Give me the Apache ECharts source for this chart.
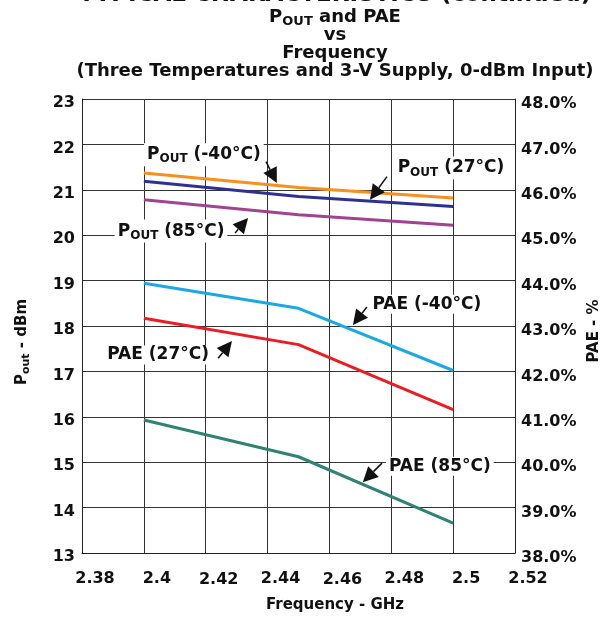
<!DOCTYPE html>
<html><head><meta charset="utf-8">
<script src="https://cdn.jsdelivr.net/npm/echarts@6/dist/echarts.min.js"></script>
<style>html,body{margin:0;padding:0;background:#fff}#c{width:608px;height:624px}</style>
</head><body><div id="c"></div>
<script>
// ---- data ----
const freqs   = [2.4, 2.45, 2.5];
const poutM40 = [21.37, 21.05, 20.82];
const pout27  = [21.19, 20.85, 20.63];
const pout85  = [20.78, 20.45, 20.22];
const paeM40  = [43.94, 43.39, 42.02];
const pae27   = [43.17, 42.59, 41.16];
const pae85   = [40.93, 40.12, 38.66];
const xTicks  = [2.38, 2.4, 2.42, 2.44, 2.46, 2.48, 2.5, 2.52];
const leftTicks  = [13, 14, 15, 16, 17, 18, 19, 20, 21, 22, 23];
const rightTicks = [38, 39, 40, 41, 42, 43, 44, 45, 46, 47, 48];

const FONT = '"DejaVu Sans", "Liberation Sans", sans-serif';
const chart = echarts.init(document.getElementById('c'), null, {renderer: 'canvas'});

function pairs(ys) { return freqs.map((f, i) => [f, ys[i]]); }
function line(name, ys, color, axis) {
  return { name, type: 'line', yAxisIndex: axis, data: pairs(ys), symbol: 'none',
    lineStyle: { color, width: 3 }, itemStyle: { color }, z: 5, animation: false };
}
const lowered = [2.42, 2.46];

chart.setOption({
  animation: false,
  backgroundColor: '#fff',
  grid: { left: 82, right: 93, top: 99, bottom: 71, containLabel: false },
  xAxis: {
    type: 'value', min: xTicks[0], max: xTicks[xTicks.length - 1], interval: 0.02,
    axisLine: { show: true, lineStyle: { color: '#222', width: 1 } },
    axisTick: { show: false },
    splitLine: { show: true, lineStyle: { color: '#333', width: 1 } },
    axisLabel: { margin: 10, fontFamily: FONT, fontWeight: 'bold', fontSize: 16, color: '#111',
      formatter: v => {
        const r = Math.round(v * 100) / 100;
        return (lowered.includes(r) ? '{b|' : '{a|') + r + '}';
      },
      rich: {
        a: { fontFamily: FONT, fontWeight: 'bold', fontSize: 16, color: '#111', lineHeight: 31, padding: [0, 0, 0, 26] },
        b: { fontFamily: FONT, fontWeight: 'bold', fontSize: 16, color: '#111', lineHeight: 34, padding: [0, 0, 0, 26] }
      } }
  },
  yAxis: [{
    type: 'value', min: leftTicks[0], max: leftTicks[leftTicks.length - 1], interval: 1,
    axisLine: { show: true, lineStyle: { color: '#222', width: 1 } },
    axisTick: { show: false },
    splitLine: { show: true, lineStyle: { color: '#333', width: 1 } },
    axisLabel: { margin: 7, fontFamily: FONT, fontWeight: 'bold', fontSize: 16, color: '#111',
      verticalAlign: 'top', lineHeight: 8 }
  }, {
    type: 'value', min: rightTicks[0], max: rightTicks[rightTicks.length - 1], interval: 1,
    position: 'right',
    axisLine: { show: true, lineStyle: { color: '#222', width: 1 } },
    axisTick: { show: false },
    splitLine: { show: false },
    axisLabel: { margin: 6, fontFamily: FONT, fontWeight: 'bold', fontSize: 16, color: '#111',
      verticalAlign: 'top', lineHeight: 10, formatter: v => v.toFixed(1) + '%' }
  }],
  series: [
    line('POUT (-40°C)', poutM40, '#F7901E', 0),
    line('POUT (27°C)', pout27, '#2E3192', 0),
    line('POUT (85°C)', pout85, '#A0448F', 0),
    line('PAE (-40°C)', paeM40, '#1BA9E6', 1),
    line('PAE (27°C)', pae27, '#EC1C24', 1),
    line('PAE (85°C)', pae85, '#2F8373', 1)
  ]
});

// ---- annotations (positions in data units of left axis: GHz, dBm) ----
const notes = [
  { sub: true, pre: 'P', s: 'OUT', post: ' (-40°C)', at: [2.4194, 21.77], tail: [2.4395, 21.62], tip: [2.4430, 21.15] },
  { sub: true, pre: 'P', s: 'OUT', post: ' (27°C)',  at: [2.4993, 21.48], tail: [2.4786, 21.29], tip: [2.4731, 20.78] },
  { sub: true, pre: 'P', s: 'OUT', post: ' (85°C)',  at: [2.4088, 20.09], tail: [2.4295, 20.05], tip: [2.4337, 20.38] },
  { text: 'PAE (-40°C)', at: [2.4915, 18.48], tail: [2.4721, 18.42], tip: [2.4676, 18.02] },
  { text: 'PAE (27°C)',  at: [2.4046, 17.36], tail: [2.4240, 17.29], tip: [2.4285, 17.67] },
  { text: 'PAE (85°C)',  at: [2.4957, 14.91], tail: [2.4770, 14.98], tip: [2.4708, 14.56] }
];

const richBase = {
  a: { fontFamily: FONT, fontWeight: 'bold', fontSize: 17, fill: '#111' },
  s: { fontFamily: FONT, fontWeight: 'bold', fontSize: 12, fill: '#111', padding: [9, 0, 0, 0] }
};
const px = p => chart.convertToPixel({ gridIndex: 0 }, p);

const g = [];
notes.forEach(n => {
  const c = px(n.at), t0 = px(n.tail), t1 = px(n.tip);
  const dx = t1[0] - t0[0], dy = t1[1] - t0[1], L = Math.hypot(dx, dy);
  const ux = dx / L, uy = dy / L, hl = 15, hw = 7.5;
  const bx = t1[0] - ux * hl, by = t1[1] - uy * hl;
  g.push({ type: 'line', z: 20, shape: { x1: t0[0], y1: t0[1], x2: bx, y2: by },
    style: { stroke: '#111', lineWidth: 1.5 } });
  g.push({ type: 'polygon', z: 20, shape: { points: [[t1[0], t1[1]],
    [bx - uy * hw, by + ux * hw], [bx + uy * hw, by - ux * hw]] }, style: { fill: '#111' } });
  const txt = n.sub ? `{a|${n.pre}}{s|${n.s}}{a|${n.post}}` : `{a|${n.text}}`;
  g.push({ type: 'text', z: 21, x: c[0], y: c[1], style: {
    text: txt, rich: richBase, align: 'center', verticalAlign: 'middle',
    backgroundColor: '#fff', padding: [1, 3, 1, 3] } });
});

// titles
const T = { fontFamily: FONT, fontWeight: 'bold', fontSize: 18, fill: '#111' };
const TS = { fontFamily: FONT, fontWeight: 'bold', fontSize: 13, fill: '#111', padding: [9, 0, 0, 0] };
const CX = 335;
g.push({ type: 'text', x: CX, y: 7, style: { text: 'TYPICAL CHARACTERISTICS (continued)',
  fontFamily: FONT, fontWeight: 'bold', fontSize: 23, fill: '#111', align: 'center', verticalAlign: 'bottom' } });
g.push({ type: 'text', x: CX, y: 17, style: { text: '{a|P}{s|OUT}{a| and PAE}', rich: { a: T, s: TS },
  align: 'center', verticalAlign: 'middle' } });
g.push({ type: 'text', x: CX, y: 35, style: { text: 'vs', ...T, align: 'center', verticalAlign: 'middle' } });
g.push({ type: 'text', x: CX, y: 53, style: { text: 'Frequency', ...T, align: 'center', verticalAlign: 'middle' } });
g.push({ type: 'text', x: CX, y: 71, style: { text: '(Three Temperatures and 3-V Supply, 0-dBm Input)', ...T,
  align: 'center', verticalAlign: 'middle' } });

// axis names
const N = { fontFamily: FONT, fontWeight: 'bold', fontSize: 15, fill: '#111' };
const NS = { fontFamily: FONT, fontWeight: 'bold', fontSize: 11, fill: '#111', padding: [8, 0, 0, 0] };
g.push({ type: 'text', x: CX, y: 605, style: { text: 'Frequency - GHz', ...N, align: 'center', verticalAlign: 'middle' } });
g.push({ type: 'text', x: 22, y: 342, rotation: Math.PI / 2, style: { text: '{a|P}{s|out}{a| - dBm}',
  rich: { a: N, s: NS }, align: 'center', verticalAlign: 'middle' } });
g.push({ type: 'text', x: 594, y: 331, rotation: Math.PI / 2, style: { text: 'PAE - %', ...N,
  align: 'center', verticalAlign: 'middle' } });

chart.setOption({ graphic: { elements: g } });
</script></body></html>
